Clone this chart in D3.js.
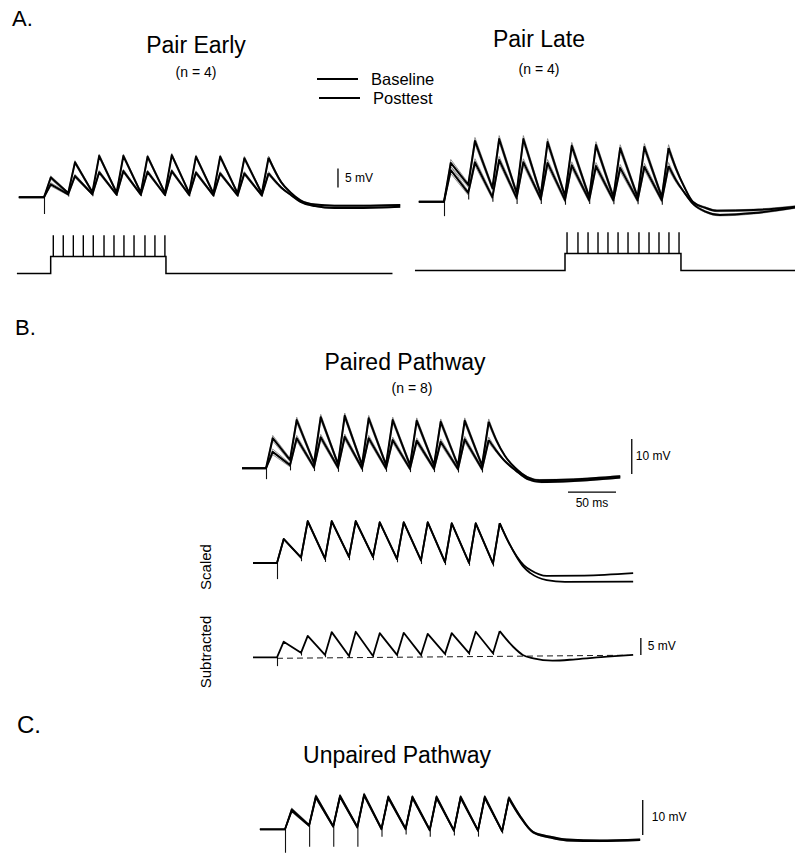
<!DOCTYPE html>
<html>
<head>
<meta charset="utf-8">
<script src="https://cdn.jsdelivr.net/npm/d3@7"></script>
<style>
  body { margin: 0; background: #fff; }
  svg { display: block; }
  text { font-family: "Liberation Sans", Arial, Helvetica, sans-serif; fill: #000; }
</style>
</head>
<body>
<div id="chart"></div>
<script>
// times in ms from the first stimulus, voltages in mV from rest
var pulseOnsets = [0, 25, 50, 75, 100, 125, 150, 175, 200, 225];
var riseTime = 7;

// A. Pair Early
var earlyPostPeaks = [5.2, 9.2, 10.9, 10.9, 10.7, 11.1, 10.7, 10.7, 10.3, 10.4];
var earlyPostTroughs = [1.1, 1.3, 1.2, 1.2, 1.1, 1.1, 1.0, 1.0, 1.0];
var earlyPostTail = [[245, 4.0], [255, 1.2], [265, -0.8], [280, -1.9], [300, -2.2], [330, -2.2], [368, -2.0]];
var earlyBasePeaks = [3.4, 5.6, 6.6, 6.9, 6.7, 6.9, 6.5, 6.3, 6.3, 6.3];
var earlyBaseTroughs = [0.8, 0.8, 0.7, 0.7, 0.6, 0.6, 0.5, 0.5, 0.5];
var earlyBaseTail = [[245, 2.6], [255, 0.6], [265, -1.2], [280, -2.3], [300, -2.8], [330, -2.8], [368, -2.5]];
var earlyArtifacts = [-4.4, 0.2, 0.3, 0.4, 0.3, 0.3, 0.2, 0.2, 0.2, 0.2];
var earlyStep = [6.9, 126];
var earlyTicks = [9.6, 19.9, 30.3, 40.6, 50.9, 62.0, 72.3, 82.6, 93.0, 104.3, 114.6, 124.9];

// A. Pair Late
var latePostPeaks = [10.2, 16.0, 16.5, 16.5, 15.7, 14.7, 14.9, 14.1, 14.4, 14.1];
var latePostTroughs = [4.4, 3.6, 2.3, 1.8, 1.5, 1.2, 1.2, 1.2, 1.2];
var latePostTail = [[240, 8.5], [248, 4.0], [257, 0], [270, -1.6], [282, -2.4], [320, -2.2], [363, -1.3]];
var lateBasePeaks = [8.3, 10.4, 11.0, 10.4, 10.2, 9.6, 9.4, 8.9, 9.2, 9.4];
var lateBaseTroughs = [2.3, 1.2, 1.0, 0.7, 0.4, 0.4, 0.4, 0.4, 0.4];
var lateBaseTail = [[240, 5.5], [248, 2.5], [257, -0.5], [270, -2.6], [285, -3.5], [320, -3.0], [363, -1.5]];
var lateArtifacts = [-3.8, 0.6, 0.0, -0.6, -0.6, -0.8, -0.6, -0.7, -0.7, -0.8];
var lateStep = [125, 244.8];
var lateTicks = [127.1, 138.4, 148.8, 159.1, 169.4, 179.8, 190.1, 201.4, 211.8, 222.1, 232.4, 242.8];

// B. Paired pathway
var pairedPostPeaks = [8.6, 13.8, 14.6, 15.0, 14.3, 13.8, 13.6, 13.3, 13.6, 13.3];
var pairedPostTroughs = [2.4, 1.5, 1.2, 1.0, 1.0, 0.9, 0.9, 0.8, 0.8];
var pairedPostTail = [[240, 8.0], [249, 3.5], [260, 0], [272, -2.5], [285, -3.4], [320, -3.2], [369, -2.3]];
var pairedBasePeaks = [4.7, 8.6, 8.9, 9.0, 8.6, 8.1, 7.9, 7.6, 8.3, 8.1];
var pairedBaseTroughs = [0.9, 0.3, 0.2, 0.0, 0.0, -0.1, -0.1, -0.2, -0.2];
var pairedBaseTail = [[240, 5.0], [249, 2.0], [260, -0.6], [272, -3.0], [287, -3.9], [320, -3.6], [369, -2.6]];
var pairedArtifacts = [-3.1, -0.6, -0.8, -1.0, -1.0, -1.0, -1.1, -1.1, -1.2, -1.2];

// B. Scaled
var scaledPostPeaks = [6.9, 12.0, 12.0, 12.0, 11.7, 11.7, 11.7, 11.4, 11.4, 11.4];
var scaledPostTroughs = [1.6, 1.3, 1.8, 1.8, 1.2, 0.8, 0.3, 0.1, -0.1];
var scaledPostTail = [[240, 6.6], [250, 1.8], [257, -0.6], [264, -2.0], [281, -3.7], [320, -3.6], [371, -2.9]];
var scaledBasePeaks = [6.8, 11.9, 11.9, 11.9, 11.6, 11.6, 11.6, 11.3, 11.3, 11.3];
var scaledBaseTroughs = [1.5, 1.2, 1.7, 1.7, 1.1, 0.7, 0.2, 0.0, -0.2];
var scaledBaseTail = [[240, 6.6], [250, 1.6], [257, -1.2], [264, -2.9], [281, -4.9], [300, -5.4], [371, -5.3]];
var scaledArtifacts = [-4.6, 0.5, 0.3, 0.8, 0.8, 0.2, -0.3, -0.6, -0.8, -1.0];

// B. Subtracted
var subPeaks = [4.9, 6.6, 7.7, 7.8, 7.4, 7.5, 7.2, 7.4, 7.8, 8.0];
var subTroughs = [1.6, 1.0, 0.7, 0.7, 1.0, 1.0, 1.3, 1.5, 1.5];
var subTail = [[246, 3.4], [256, 1.0], [267, 0], [287, -0.7], [311, -0.3], [344, 0.5], [371, 1.0]];
var subArtifacts = [-2.3, 0.8, 0.3, 0.2, 0.2, 0.5, 0.5, 0.8, 1.0, 1.0];
var subZero = [[0, 0], [365, 0.9]];

// C. Unpaired pathway
var unpairedPostPeaks = [5.7, 9.5, 9.6, 10.0, 9.3, 9.3, 9.3, 9.3, 9.3, 9.1];
var unpairedPostTroughs = [1.2, 0.9, 0.7, 0.2, 0.2, -0.1, -0.3, -0.3, -0.5];
var unpairedPostTail = [[243, 4.1], [257, -0.7], [275, -2.1], [292, -2.9], [326, -3.2], [368, -2.9]];
var unpairedBasePeaks = [5.3, 9.1, 9.3, 9.7, 9.0, 9.0, 9.0, 9.0, 9.0, 8.8];
var unpairedBaseTroughs = [1.0, 0.7, 0.5, 0.0, 0.0, -0.3, -0.4, -0.4, -0.6];
var unpairedBaseTail = [[243, 3.8], [257, -0.9], [275, -2.4], [292, -3.2], [326, -3.4], [368, -3.1]];
var unpairedArtifacts = [-6.7, -5.0, -5.0, -5.0, -2.1, -1.5, -2.1, -1.8, -2.1, -1.2];

var width = 795, height = 855;

var svg = d3.select("#chart").append("svg")
    .attr("width", width)
    .attr("height", height);

svg.append("rect")
    .attr("width", width)
    .attr("height", height)
    .attr("fill", "#fff");

// one trace: pre level, pulse peaks/troughs, then a smooth tail
var makeTrace = function(start, peaks, troughs, tail) {
    return {start: start, pre: 0, peaks: peaks, troughs: troughs, tail: tail};
}

var pulseVertices = function(tr, off) {
    var pts = [[tr.start, tr.pre], [pulseOnsets[0], tr.pre]];
    pulseOnsets.forEach(function(t, i) {
        if (i > 0) pts.push([t, tr.troughs[i - 1] + off * 0.6]);
        pts.push([t + riseTime, tr.peaks[i] + off]);
    });
    return pts;
}

var tailVertices = function(tr, off) {
    var last = pulseOnsets.length - 1;
    var pts = [[pulseOnsets[last] + riseTime, tr.peaks[last] + off]];
    tr.tail.forEach(function(d, i) {
        pts.push([d[0], d[1] + (i === 0 ? off * 0.6 : off * 0.25)]);
    });
    return pts;
}

var drawPanel = function(p) {
    var x = d3.scaleLinear().domain([0, 50]).range([p.x0, p.x0 + 50 * p.pxPerMs]);
    var y = d3.scaleLinear().domain([0, 10]).range([p.y0, p.y0 - 10 * p.pxPerMv]);
    var g = svg.append("g").attr("class", "panel");

    var straight = d3.line().x(function(d) { return x(d[0]); }).y(function(d) { return y(d[1]); });
    var smooth = d3.line().curve(d3.curveMonotoneX)
        .x(function(d) { return x(d[0]); }).y(function(d) { return y(d[1]); });

    // sem envelopes first, thin grey
    p.traces.forEach(function(tr) {
        if (!p.sem) return;
        [p.sem, -p.sem].forEach(function(off) {
            g.append("path").attr("d", straight(pulseVertices(tr, off)))
                .attr("fill", "none").attr("stroke", "#7a7a7a")
                .attr("stroke-width", 0.8).attr("stroke-linejoin", "round");
            g.append("path").attr("d", smooth(tailVertices(tr, off)))
                .attr("fill", "none").attr("stroke", "#7a7a7a").attr("stroke-width", 0.8);
        });
    });

    // stimulus artifacts
    var lowest = p.traces[p.traces.length - 1];
    g.selectAll(".artifact").data(p.artifacts).enter().append("line")
        .attr("class", "artifact")
        .attr("x1", function(d, i) { return x(pulseOnsets[i]) + 0.5; })
        .attr("x2", function(d, i) { return x(pulseOnsets[i]) + 0.5; })
        .attr("y1", function(d, i) { return y(i === 0 ? lowest.pre : lowest.troughs[i - 1]); })
        .attr("y2", function(d) { return y(d); })
        .attr("stroke", "#111")
        .attr("stroke-width", 1.1);

    p.traces.forEach(function(tr) {
        g.append("path").attr("d", straight(pulseVertices(tr, 0)))
            .attr("fill", "none").attr("stroke", "#000")
            .attr("stroke-width", p.lw).attr("stroke-linejoin", "round");
        g.append("path").attr("d", smooth(tailVertices(tr, 0)))
            .attr("fill", "none").attr("stroke", "#000")
            .attr("stroke-width", p.lw);
    });

    if (p.zero) {
        g.append("path").attr("d", straight(p.zero))
            .attr("fill", "none").attr("stroke", "#000")
            .attr("stroke-width", 0.9).attr("stroke-dasharray", "6,4");
    }

    // scale bars
    if (p.mvBar) {
        g.append("line")
            .attr("x1", x(p.mvBar.t)).attr("x2", x(p.mvBar.t))
            .attr("y1", y(p.mvBar.v)).attr("y2", y(p.mvBar.v + p.mvBar.size))
            .attr("stroke", "#000").attr("stroke-width", 1.3);
        g.append("text")
            .attr("x", x(p.mvBar.t) + p.mvBar.dx)
            .attr("y", y(p.mvBar.v + p.mvBar.size / 2) + 4)
            .attr("font-size", 12)
            .text(p.mvBar.size + " mV");
    }
    if (p.msBar) {
        g.append("line")
            .attr("x1", x(p.msBar.t)).attr("x2", x(p.msBar.t + p.msBar.size))
            .attr("y1", y(p.msBar.v)).attr("y2", y(p.msBar.v))
            .attr("stroke", "#000").attr("stroke-width", 1.3);
        g.append("text")
            .attr("x", x(p.msBar.t + p.msBar.size / 2))
            .attr("y", y(p.msBar.v) + 15)
            .attr("text-anchor", "middle")
            .attr("font-size", 12)
            .text(p.msBar.size + " ms");
    }
    return x;
}

// current step with brief pulses, drawn under the A traces
var drawStim = function(x, yLow, step, ticks, range) {
    var y = d3.scaleLinear().domain([0, 1]).range([yLow, yLow - 17]);
    var pts = [[range[0], 0], [step[0], 0], [step[0], 1], [step[1], 1], [step[1], 0], [range[1], 0]];
    var line = d3.line().x(function(d) { return x(d[0]); }).y(function(d) { return y(d[1]); });
    svg.append("path").attr("d", line(pts))
        .attr("fill", "none").attr("stroke", "#000").attr("stroke-width", 1.5);
    svg.selectAll(null).data(ticks).enter().append("line")
        .attr("x1", function(d) { return x(d); })
        .attr("x2", function(d) { return x(d); })
        .attr("y1", y(1))
        .attr("y2", y(2.25))
        .attr("stroke", "#000")
        .attr("stroke-width", 1.4);
}

var xEarly = drawPanel({
    x0: 44, y0: 197.3, pxPerMs: 0.968, pxPerMv: 3.8, lw: 2.0, sem: 0.45,
    traces: [makeTrace(-26, earlyPostPeaks, earlyPostTroughs, earlyPostTail),
             makeTrace(-26, earlyBasePeaks, earlyBaseTroughs, earlyBaseTail)],
    artifacts: earlyArtifacts,
    mvBar: {t: 303.7, v: 2.6, size: 5, dx: 7}
});
drawStim(xEarly, 273.5, earlyStep, earlyTicks, [-28, 360]);

var xLate = drawPanel({
    x0: 444, y0: 201.7, pxPerMs: 0.968, pxPerMv: 3.8, lw: 2.0, sem: 0.9,
    traces: [makeTrace(-26, latePostPeaks, latePostTroughs, latePostTail),
             makeTrace(-26, lateBasePeaks, lateBaseTroughs, lateBaseTail)],
    artifacts: lateArtifacts
});
drawStim(xLate, 270.5, lateStep, lateTicks, [-30, 363]);

drawPanel({
    x0: 266, y0: 468.3, pxPerMs: 0.96, pxPerMv: 3.5, lw: 2.0, sem: 0.8,
    traces: [makeTrace(-25, pairedPostPeaks, pairedPostTroughs, pairedPostTail),
             makeTrace(-25, pairedBasePeaks, pairedBaseTroughs, pairedBaseTail)],
    artifacts: pairedArtifacts,
    mvBar: {t: 381, v: -1.6, size: 10, dx: 4},
    msBar: {t: 314.6, v: -6.8, size: 50}
});

drawPanel({
    x0: 277, y0: 563, pxPerMs: 0.96, pxPerMv: 3.5, lw: 1.8, sem: 0,
    traces: [makeTrace(-25, scaledPostPeaks, scaledPostTroughs, scaledPostTail),
             makeTrace(-25, scaledBasePeaks, scaledBaseTroughs, scaledBaseTail)],
    artifacts: scaledArtifacts
});

var subTrace = makeTrace(-25, subPeaks, subTroughs, subTail);
subTrace.pre = 0.3;
drawPanel({
    x0: 277, y0: 658.3, pxPerMs: 0.96, pxPerMv: 3.4, lw: 1.8, sem: 0,
    traces: [subTrace],
    artifacts: subArtifacts,
    zero: subZero,
    mvBar: {t: 379, v: 1.0, size: 5, dx: 7}
});

drawPanel({
    x0: 285, y0: 829.3, pxPerMs: 0.965, pxPerMv: 3.5, lw: 1.8, sem: 0.4,
    traces: [makeTrace(-26, unpairedPostPeaks, unpairedPostTroughs, unpairedPostTail),
             makeTrace(-26, unpairedBasePeaks, unpairedBaseTroughs, unpairedBaseTail)],
    artifacts: unpairedArtifacts,
    mvBar: {t: 370.7, v: -1.6, size: 10, dx: 9}
});

// labels
var label = function(txt, x, y, size, anchor) {
    svg.append("text").attr("x", x).attr("y", y)
        .attr("font-size", size)
        .attr("text-anchor", anchor || "start")
        .text(txt);
}
label("A.", 12, 26, 22);
label("B.", 15, 335, 22);
label("C.", 17, 733, 24);
label("Pair Early", 196, 53, 23, "middle");
label("(n = 4)", 196, 77, 14, "middle");
label("Pair Late", 539, 47, 23, "middle");
label("(n = 4)", 539, 74, 14, "middle");
label("Paired Pathway", 405, 370, 23, "middle");
label("(n = 8)", 412, 393, 14, "middle");
label("Unpaired Pathway", 397, 763, 23, "middle");

// legend
var legendItems = ["Baseline", "Posttest"];
var legendY = [79, 98];
var legendX = [317, 319];
legendItems.forEach(function(d, i) {
    svg.append("line")
        .attr("x1", legendX[i]).attr("x2", legendX[i] + 41)
        .attr("y1", legendY[i]).attr("y2", legendY[i])
        .attr("stroke", "#000").attr("stroke-width", 2);
    svg.append("text")
        .attr("x", legendX[i] + 54).attr("y", legendY[i] + 6)
        .attr("font-size", 16.5)
        .text(d);
});

// rotated row labels
[["Scaled", 567], ["Subtracted", 652]].forEach(function(d) {
    svg.append("text")
        .attr("transform", "translate(211," + d[1] + ") rotate(-90)")
        .attr("text-anchor", "middle")
        .attr("font-size", 15)
        .text(d[0]);
});
</script>
</body>
</html>
